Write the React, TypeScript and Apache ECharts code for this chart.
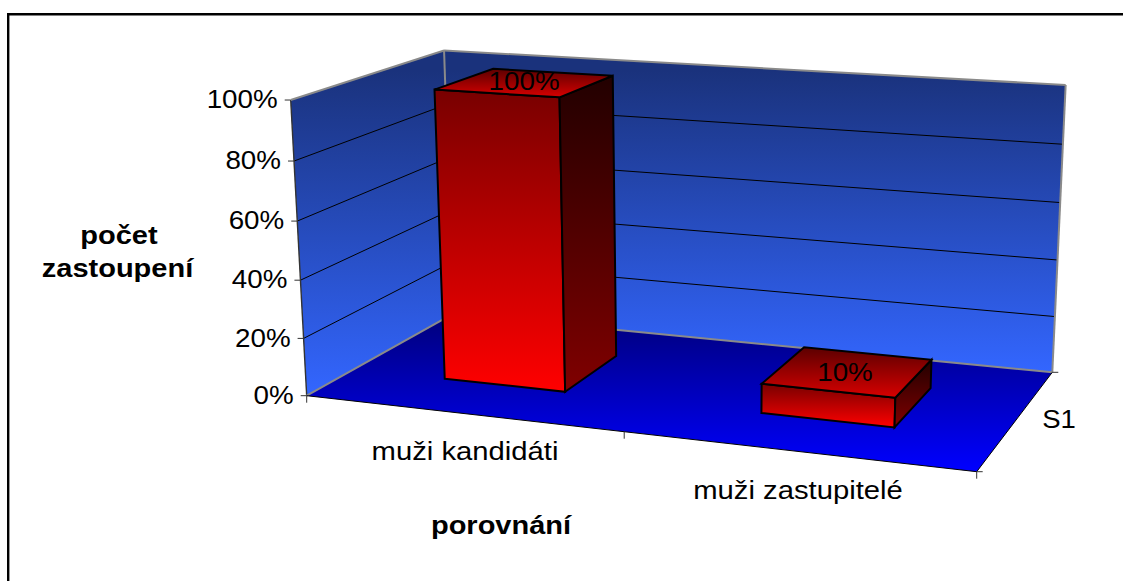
import React, { useEffect, useRef } from "react";
import * as echarts from "echarts";

const categories = ["muži kandidáti", "muži zastupitelé"];
const values = [100, 10];
const valueLabels = ["100%", "10%"];
const yTicks = [0, 20, 40, 60, 80, 100];
const yTickLabels = ["0%", "20%", "40%", "60%", "80%", "100%"];
const seriesName = "S1";
const yTitle = ["počet", "zastoupení"];
const xTitle = "porovnání";

// screen corners of the floor, and the vanishing point of the vertical edges
const A = [306.7, 395.7], F = [976.7, 471.7], E = [1052.3, 372.3], G = [453, 313.8];
const VP = [707, 7796];
const HEIGHT = -0.03842;
const sx = A[0] - F[0] + E[0] - G[0], sy = A[1] - F[1] + E[1] - G[1];
const d1x = F[0] - E[0], d2x = G[0] - E[0], d1y = F[1] - E[1], d2y = G[1] - E[1];
const det = d1x * d2y - d2x * d1y;
const hg = (sx * d2y - d2x * sy) / det, hh = (d1x * sy - sx * d1y) / det;
const ha = F[0] - A[0] + hg * F[0], hb = G[0] - A[0] + hh * G[0];
const hd = F[1] - A[1] + hg * F[1], he = G[1] - A[1] + hh * G[1];
const project = (u: number, v: number, w: number) => {
  const s = HEIGHT * w;
  const z = hg * u + hh * v + 1 + s;
  return [
    (ha * u + hb * v + A[0] + s * VP[0]) / z,
    (hd * u + he * v + A[1] + s * VP[1]) / z,
  ];
};

const vGrad = (y0: number, y1: number, c0: string, c1: string, box: number[][]) => {
  const ys = box.map((p) => p[1]);
  const lo = Math.min(...ys), hi = Math.max(...ys);
  const h = hi - lo || 1;
  return new echarts.graphic.LinearGradient(0, (y0 - lo) / h, 0, (y1 - lo) / h, [
    { offset: 0, color: c0 },
    { offset: 1, color: c1 },
  ]);
};
const quad = (pts: number[][], fill: any, stroke?: string, lineWidth = 0) => ({
  type: "polygon",
  shape: { points: pts },
  style: { fill, stroke: stroke || "none", lineWidth },
});
const seg = (a: number[], b: number[], stroke: string, lineWidth = 1) => ({
  type: "line",
  shape: { x1: a[0], y1: a[1], x2: b[0], y2: b[1] },
  style: { stroke, lineWidth },
});
const txt = (text: string, x: number, baseline: number, align: string, fontSize: number, scaleX: number, bold = false) => ({
  type: "text",
  x,
  y: baseline - 0.347 * fontSize,
  scaleX,
  style: {
    text,
    x: 0,
    y: 0,
    align,
    verticalAlign: "middle",
    fontFamily: "Liberation Sans, Arial, sans-serif",
    fontSize,
    fontWeight: bold ? "bold" : "normal",
    fill: "#000",
  },
});

const BAR_HALF = 0.098, V0 = 0.3, V1 = 0.71;
const WALL_TOP = "#1a327c", WALL_BOTTOM = "#3366ff";

const renderScene = (params: any, api: any) => {
  const cs = params.coordSys;
  const wOf = (val: number) => (cs.y + cs.height - api.coord([0, val])[1]) / cs.height;
  const uOf = (x: number) => (api.coord([x, 0])[0] - cs.x) / cs.width;
  const children: any[] = [];
  const n = categories.length;

  // walls
  const left = [project(0, 0, 0), project(0, 0, 1), project(0, 1, 1), project(0, 1, 0)];
  const back = [project(0, 1, 0), project(0, 1, 1), project(1, 1, 1), project(1, 1, 0)];
  const floor = [project(0, 0, 0), project(1, 0, 0), project(1, 1, 0), project(0, 1, 0)];
  children.push(quad(left, vGrad(70, 395, WALL_TOP, WALL_BOTTOM, left)));
  children.push(quad(back, vGrad(70, 372, WALL_TOP, WALL_BOTTOM, back)));
  children.push(quad(floor, vGrad(314, 471, "#00007a", "#0000ff", floor)));

  // gridlines, ticks and value-axis labels
  yTicks.forEach((t, i) => {
    const w = wOf(t);
    const a = project(0, 0, w), b = project(0, 1, w), c = project(1, 1, w);
    if (t > 0 && t < 100) {
      children.push(seg(a, b, "#000"), seg(b, c, "#000"));
    }
    children.push(seg([a[0] - 6, a[1]], a, "#333"));
    children.push(txt(yTickLabels[i], a[0] - 13, a[1] + 8.5, "right", 25.5, 1.09));
  });

  // wall outlines
  children.push(seg(left[0], left[1], "#333", 1.4));
  children.push(seg(left[1], left[2], "#8a8a8a", 2));
  children.push(seg(left[2], back[2], "#8a8a8a", 2));
  children.push(seg(back[2], back[3], "#8a8a8a", 2));
  children.push(seg(left[2], left[3], "#8a8a8a", 2));
  children.push(seg(left[3], left[0], "#8a8a8a", 2));
  children.push(seg(back[0], back[3], "#8a8a8a", 2));

  // floor edges and their ticks
  children.push(seg(floor[0], floor[1], "#000"), seg(floor[1], floor[2], "#000"));
  for (let i = 0; i <= n; i++) {
    const p = project(uOf(i), 0, 0);
    children.push(seg(p, [p[0], p[1] + 7], "#333"));
  }
  children.push(seg(floor[1], [floor[1][0] + 6, floor[1][1]], "#333"));
  children.push(seg(floor[2], [floor[2][0] + 6, floor[2][1]], "#333"));

  // bars
  categories.forEach((_, i) => {
    const uc = uOf(i + 0.5);
    const ul = uc - BAR_HALF, ur = uc + BAR_HALF;
    const w = wOf(values[i]);
    const fl0 = project(ul, V0, 0), fr0 = project(ur, V0, 0), br0 = project(ur, V1, 0);
    const fl1 = project(ul, V0, w), fr1 = project(ur, V0, w), br1 = project(ur, V1, w), bl1 = project(ul, V1, w);
    const front = [fl0, fr0, fr1, fl1], side = [fr0, br0, br1, fr1], top = [fl1, fr1, br1, bl1];
    children.push(quad(front, vGrad(fl1[1], fr0[1], "#780000", "#ff0000", front), "#000", 2));
    children.push(quad(side, vGrad(br1[1], fr0[1], "#220000", "#800000", side), "#000", 2));
    children.push(quad(top, vGrad(bl1[1], fr1[1], "#5c0000", "#d80000", top), "#000", 2));
    const mid = project(uc, (V0 + V1) / 2, w);
    children.push(txt(valueLabels[i], mid[0] - (i === 0 ? 1 : 3), mid[1] + (i === 0 ? 8 : 10), "center", 25.5, 1.09));
  });

  // category labels
  children.push(txt(categories[0], 465, 460, "center", 25, 1.17));
  children.push(txt(categories[1], 798, 499, "center", 25, 1.17));
  children.push(txt(seriesName, 1059, 428, "center", 25, 1.1));
  children.push(txt(yTitle[0], 119, 244, "center", 25, 1.16, true));
  children.push(txt(yTitle[1], 117.5, 277, "center", 25, 1.16, true));
  children.push(txt(xTitle, 501, 534, "center", 25, 1.16, true));

  return { type: "group", children };
};

export default function App() {
  const ref = useRef<HTMLDivElement>(null);
  useEffect(() => {
    const chart = echarts.init(ref.current!, undefined, { renderer: "svg" });
    chart.setOption({
      animation: false,
      backgroundColor: "#fff",
      grid: { left: 100, right: 100, top: 100, bottom: 100 },
      xAxis: { type: "value", min: 0, max: categories.length, show: false },
      yAxis: { type: "value", min: 0, max: 100, show: false },
      graphic: [
        {
          type: "line",
          shape: { x1: 7, y1: 14.3, x2: 1123, y2: 14.3 },
          style: { stroke: "#000", lineWidth: 2.4 },
        },
        {
          type: "line",
          shape: { x1: 8.2, y1: 13, x2: 8.2, y2: 581 },
          style: { stroke: "#000", lineWidth: 2.4 },
        },
      ],
      series: [
        {
          type: "custom",
          clip: false,
          silent: true,
          data: [[0, 0]],
          renderItem: renderScene,
        },
      ],
    });
    return () => chart.dispose();
  }, []);
  return <div ref={ref} style={{ position: "fixed", left: 0, top: 0, width: 1123, height: 581 }} />;
}
